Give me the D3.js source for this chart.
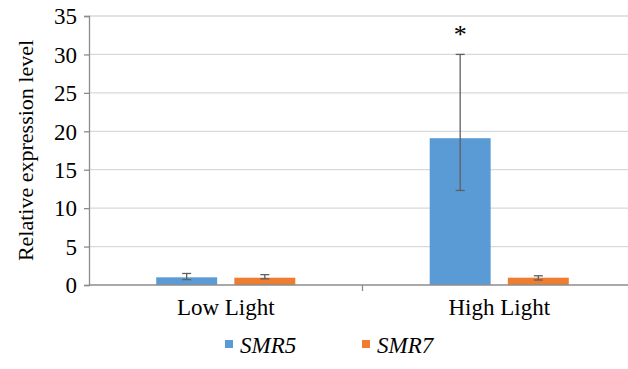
<!DOCTYPE html>
<html><head><meta charset="utf-8"><script src="https://cdn.jsdelivr.net/npm/d3@7"></script></head>
<body style="margin:0">
<script>
// data
const categories = ['Low Light', 'High Light'];
const seriesNames = ['SMR5', 'SMR7'];
const seriesColors = ['#5b9bd5', '#ed7d31'];
const smr5 = [1.0, 19.1];
const smr7 = [0.95, 0.95];
const smr5Upper = [1.5, 30.0];   // top of error bar
const smr5Lower = [0.7, 12.3];   // bottom of error bar
const smr7Upper = [1.35, 1.2];
const smr7Lower = [0.8, 0.65];
const significance = ['', '*'];  // marker above SMR5
const yTicks = [0, 5, 10, 15, 20, 25, 30, 35];

const width = 628, height = 369;
const margin = { top: 16, right: -8, bottom: 84, left: 89 };
const FONT = 'Liberation Serif';

const svg = d3.select('body').append('svg')
  .attr('width', width)
  .attr('height', height);

const y = d3.scaleLinear().domain([0, 35]).range([height - margin.bottom, margin.top]);
const x0 = d3.scaleBand().domain(categories).range([margin.left, width - margin.right]).padding(0);
const x1 = d3.scaleBand().domain(seriesNames).range([0, x0.bandwidth()])
  .paddingInner(0.22).paddingOuter(0.86);

// gridlines
svg.append('g')
  .selectAll('line')
  .data(yTicks.filter(d => d > 0))
  .join('line')
  .attr('x1', margin.left).attr('x2', width)
  .attr('y1', d => y(d)).attr('y2', d => y(d))
  .attr('stroke', '#d9d9d9').attr('stroke-width', 1.3);

// y axis
const yAxis = svg.append('g')
  .attr('transform', `translate(${margin.left},0)`)
  .call(d3.axisLeft(y).tickValues(yTicks).tickSize(5).tickPadding(7));
yAxis.attr('font-family', FONT).attr('font-size', 23);
yAxis.select('.domain').attr('stroke', '#8c8c8c').attr('stroke-width', 1.3);
yAxis.selectAll('.tick line').attr('stroke', '#8c8c8c').attr('stroke-width', 1.3);
yAxis.selectAll('.tick text')
  .attr('fill', '#000')
  .attr('dy', '0.34em')
  .style('font-family', `"${FONT}"`);

svg.append('text')
  .attr('transform', `translate(33,${(y(0) + y(35)) / 2}) rotate(-90)`)
  .attr('text-anchor', 'middle')
  .attr('font-size', 22)
  .style('font-family', `"${FONT}"`)
  .text('Relative expression level');

// bars
const rows = categories.map((c, i) => ({
  cat: c,
  items: [
    { name: 'SMR5', value: smr5[i], hi: smr5Upper[i], lo: smr5Lower[i], color: seriesColors[0], mark: significance[i] },
    { name: 'SMR7', value: smr7[i], hi: smr7Upper[i], lo: smr7Lower[i], color: seriesColors[1], mark: '' }
  ]
}));

const groups = svg.append('g')
  .selectAll('g')
  .data(rows)
  .join('g')
  .attr('transform', d => `translate(${x0(d.cat)},0)`);

groups.selectAll('rect')
  .data(d => d.items)
  .join('rect')
  .attr('x', d => x1(d.name))
  .attr('y', d => y(d.value))
  .attr('width', x1.bandwidth())
  .attr('height', d => y(0) - y(d.value))
  .attr('fill', d => d.color);

// x axis
const xAxisG = svg.append('g');
xAxisG.append('line')
  .attr('x1', margin.left).attr('x2', width)
  .attr('y1', y(0)).attr('y2', y(0))
  .attr('stroke', '#8c8c8c').attr('stroke-width', 1.3);
xAxisG.selectAll('line.tick')
  .data(categories.slice(1))
  .join('line')
  .attr('class', 'tick')
  .attr('x1', d => x0(d)).attr('x2', d => x0(d))
  .attr('y1', y(0)).attr('y2', y(0) + 6)
  .attr('stroke', '#8c8c8c').attr('stroke-width', 1.3);
xAxisG.selectAll('text')
  .data(categories)
  .join('text')
  .attr('x', d => x0(d) + (x1('SMR5') + x1('SMR7') + x1.bandwidth()) / 2)
  .attr('y', y(0) + 30)
  .attr('text-anchor', 'middle')
  .attr('font-size', 23)
  .style('font-family', `"${FONT}"`)
  .text(d => d);

// error bars
const err = groups.selectAll('g.err')
  .data(d => d.items)
  .join('g')
  .attr('class', 'err')
  .attr('transform', d => `translate(${x1(d.name) + x1.bandwidth() / 2},0)`);
err.append('line')
  .attr('y1', d => y(d.hi)).attr('y2', d => y(d.lo))
  .attr('stroke', '#5f5f5f').attr('stroke-width', 1.3);
err.selectAll('line.cap')
  .data(d => [d.hi, d.lo])
  .join('line')
  .attr('class', 'cap')
  .attr('x1', -4.5).attr('x2', 4.5)
  .attr('y1', d => y(d)).attr('y2', d => y(d))
  .attr('stroke', '#5f5f5f').attr('stroke-width', 1.3);
err.filter(d => d.mark)
  .append('text')
  .attr('y', 43)
  .attr('text-anchor', 'middle')
  .attr('font-size', 26)
  .style('font-family', `"${FONT}"`)
  .text(d => d.mark);

// legend
const legendX = [225, 362];
const legend = svg.append('g')
  .selectAll('g')
  .data(seriesNames)
  .join('g')
  .attr('transform', (d, i) => `translate(${legendX[i]},340)`);
legend.append('rect')
  .attr('width', 8).attr('height', 8)
  .attr('fill', (d, i) => seriesColors[i]);
legend.append('text')
  .attr('x', 15).attr('y', 13)
  .attr('font-size', 23)
  .style('font-family', `"${FONT}"`)
  .style('font-style', 'italic')
  .text(d => d);
</script>
</body>
</html>
